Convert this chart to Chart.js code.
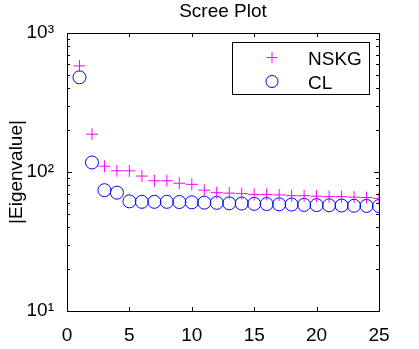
<!DOCTYPE html>
<html>
<head>
<meta charset="utf-8">
<script src="https://cdn.jsdelivr.net/npm/chart.js@4.4.1/dist/chart.umd.min.js"></script>
<style>
    html, body { margin: 0; padding: 0; background: #fff; }
    #wrap { width: 419px; height: 349px; }
</style>
</head>
<body>
<div id="wrap"><canvas id="scree"></canvas></div>
<script>
    // component index and eigenvalue magnitudes
    const components = [1, 2, 3, 4, 5, 6, 7, 8, 9, 10, 11, 12, 13, 14, 15, 16, 17, 18, 19, 20, 21, 22, 23, 24, 25];
    const nskgValues = [580, 187, 110, 102, 102, 93.5, 86.5, 86.5, 83, 81.5, 74, 71, 70.5, 70, 69, 69, 68.4, 67.5, 67.5, 67, 66.5, 66.5, 66, 65.5, 64.7];
    const clValues = [480, 117, 74, 71, 61.5, 61, 61, 61, 60.8, 60.5, 60.2, 60, 59.5, 59.3, 59, 58.8, 58.5, 58.3, 58, 57.8, 57.6, 57.4, 57.2, 57, 56.9];
    const xTicks = [0, 5, 10, 15, 20, 25];
    const yDecades = [10, 100, 1000];
    const yTickLabels = ['10\u00b9', '10\u00b2', '10\u00b3'];
    const chartTitle = 'Scree Plot';

    const FONT = '"Liberation Sans", Arial, sans-serif';

    function toPoints(values) {
        return components.map((c, i) => ({ x: c, y: values[i] }));
    }

    // title, axes box, inward ticks on all four sides, and the legend box
    const matlabAxes = {
        id: 'matlabAxes',
        afterDraw(chart) {
            const ctx = chart.ctx;
            const a = chart.chartArea;
            const xs = chart.scales.x;
            const ys = chart.scales.y;
            ctx.save();

            ctx.fillStyle = '#000';
            ctx.font = '19px ' + FONT;
            ctx.textAlign = 'center';
            ctx.textBaseline = 'alphabetic';
            ctx.fillText(chartTitle, (a.left + a.right) / 2, 17);

            ctx.strokeStyle = '#000';
            ctx.lineWidth = 1;
            ctx.strokeRect(Math.round(a.left) + 0.5, Math.round(a.top) + 0.5,
                Math.round(a.right - a.left), Math.round(a.bottom - a.top));
            ctx.beginPath();
            xTicks.forEach(v => {
                const px = Math.round(xs.getPixelForValue(v)) + 0.5;
                ctx.moveTo(px, a.bottom); ctx.lineTo(px, a.bottom - 4);
                ctx.moveTo(px, a.top); ctx.lineTo(px, a.top + 4);
            });
            yDecades.forEach(d => {
                for (let m = 1; m <= 9; m++) {
                    const v = d * m;
                    if (v > 1000) break;
                    const py = Math.round(ys.getPixelForValue(v)) + 0.5;
                    const len = m === 1 ? 5 : 3;
                    ctx.moveTo(a.left, py); ctx.lineTo(a.left + len, py);
                    ctx.moveTo(a.right, py); ctx.lineTo(a.right - len, py);
                }
            });
            ctx.stroke();

            // legend
            const lx = 232.5, ly = 42.5, lw = 137, lh = 52;
            ctx.fillStyle = '#fff';
            ctx.fillRect(lx, ly, lw, lh);
            ctx.strokeRect(lx, ly, lw, lh);
            ctx.font = '19px ' + FONT;
            ctx.textAlign = 'left';
            ctx.textBaseline = 'alphabetic';
            ctx.fillStyle = '#000';
            chart.data.datasets.forEach((ds, i) => {
                const cy = ly + 15 + i * 24;
                ctx.strokeStyle = ds.borderColor;
                ctx.lineWidth = 1;
                ctx.beginPath();
                if (ds.pointStyle === 'cross') {
                    ctx.moveTo(lx + 34, cy); ctx.lineTo(lx + 45, cy);
                    ctx.moveTo(lx + 39.5, cy - 5.5); ctx.lineTo(lx + 39.5, cy + 5.5);
                } else {
                    ctx.arc(lx + 39.5, cy, 6, 0, Math.PI * 2);
                }
                ctx.stroke();
                ctx.fillText(ds.label, lx + 75.5, cy + 7);
            });
            ctx.restore();
        }
    };

    new Chart(document.getElementById('scree'), {
        type: 'scatter',
        data: {
            datasets: [
                {
                    label: 'NSKG',
                    data: toPoints(nskgValues),
                    pointStyle: 'cross',
                    pointRadius: 6,
                    borderColor: '#ff00ff',
                    backgroundColor: '#ff00ff',
                    borderWidth: 1
                },
                {
                    label: 'CL',
                    data: toPoints(clValues),
                    pointStyle: 'circle',
                    pointRadius: 6.5,
                    borderColor: '#0000ff',
                    backgroundColor: 'rgba(0,0,0,0)',
                    borderWidth: 1
                }
            ]
        },
        options: {
            responsive: true,
            maintainAspectRatio: false,
            animation: false,
            layout: { padding: { left: 0, right: 40, top: 33, bottom: 0 } },
            plugins: {
                legend: { display: false },
                tooltip: { enabled: false },
                title: { display: false }
            },
            scales: {
                x: {
                    type: 'linear',
                    min: 0,
                    max: 25,
                    afterBuildTicks: s => { s.ticks = xTicks.map(v => ({ value: v })); },
                    afterFit: s => { s.height = 38; },
                    grid: { display: false },
                    border: { display: false },
                    ticks: { color: '#000', padding: 5, font: { family: FONT, size: 19 } }
                },
                y: {
                    type: 'logarithmic',
                    min: 10,
                    max: 1000,
                    afterBuildTicks: s => { s.ticks = yDecades.map(v => ({ value: v })); },
                    afterFit: s => { s.width = 67; },
                    grid: { display: false },
                    border: { display: false },
                    title: {
                        display: true,
                        text: '|Eigenvalue|',
                        color: '#000',
                        font: { family: FONT, size: 19 },
                        padding: { top: 5, bottom: 0 }
                    },
                    ticks: {
                        color: '#000',
                        padding: 5,
                        font: { family: FONT, size: 19 },
                        callback: v => yTickLabels[yDecades.indexOf(v)] || ''
                    }
                }
            }
        },
        plugins: [matlabAxes]
    });
</script>
</body>
</html>
